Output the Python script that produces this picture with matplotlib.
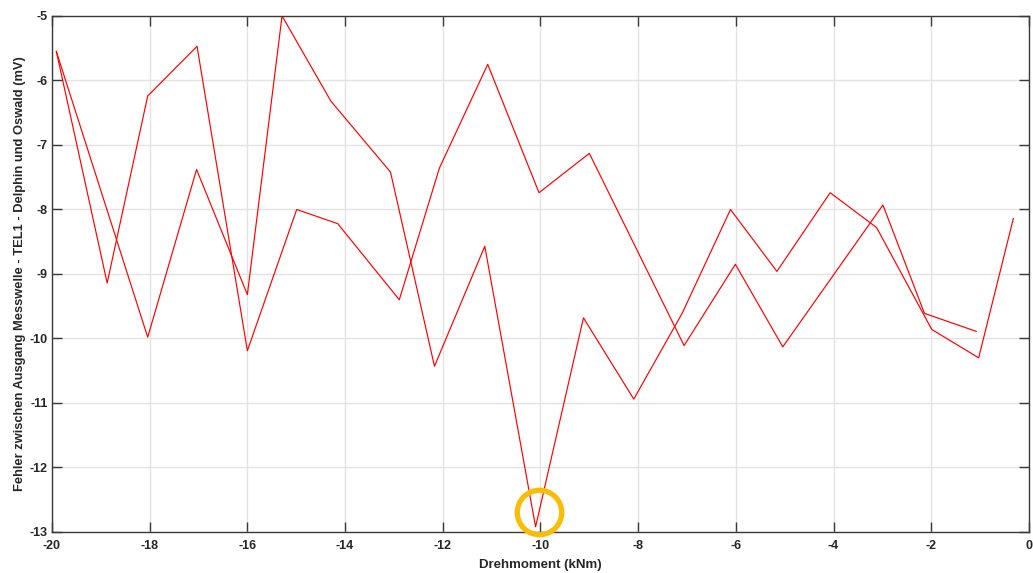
import matplotlib
matplotlib.use("Agg")
import matplotlib.pyplot as plt

plt.rcParams['font.family'] = ['Liberation Sans', 'DejaVu Sans']
plt.rcParams['axes.unicode_minus'] = False

# Messreihe 1 (Drehmoment in kNm, Fehler in mV)
torque_a = [-19.91, -18.87, -18.04, -17.03, -16.00, -14.99, -14.15, -12.89, -12.07,
            -11.08, -10.03, -9.00, -7.06, -6.01, -5.04, -2.99, -2.14, -1.08]
error_a = [-5.55, -9.14, -6.24, -5.47, -10.19, -8.00, -8.22, -9.40, -7.36,
           -5.75, -7.74, -7.13, -10.11, -8.85, -10.13, -7.93, -9.61, -9.89]

# Messreihe 2
torque_b = [-19.91, -18.04, -17.04, -16.00, -15.29, -14.29, -13.07, -12.17, -11.14, -10.10,
            -9.12, -8.09, -7.10, -6.11, -5.16, -4.07, -3.12, -1.99, -1.03, -0.32]
error_b = [-5.55, -9.98, -7.38, -9.32, -5.00, -6.32, -7.42, -10.43, -8.57, -12.92,
           -9.68, -10.94, -9.61, -8.00, -8.96, -7.74, -8.28, -9.86, -10.30, -8.14]

# Markierung des Minimums
mark_x = [-10.02]
mark_y = [-12.69]

x_ticks = list(range(-20, 1, 2))
y_ticks = list(range(-13, -4, 1))

fig = plt.figure(figsize=(10.33, 5.73), dpi=100)
ax = fig.add_axes([0.0503, 0.0716, 0.9458, 0.9005])

ax.plot(torque_a, error_a, color='#ff0000', lw=0.85)
ax.plot(torque_b, error_b, color='#ff0000', lw=0.85)

ax.plot(mark_x, mark_y, marker='o', ms=32, mfc='none', mec='#fbbc05',
        mew=3.8, ls='none', clip_on=False, zorder=5)

ax.set_xlim(-20, 0)
ax.set_ylim(-13, -5)
ax.set_xticks(x_ticks)
ax.set_yticks(y_ticks)
ax.grid(True, color='#e3e3e3', lw=1.0)
ax.set_axisbelow(True)

for s in ax.spines.values():
    s.set_color('#3a3a3a')
    s.set_linewidth(1.0)

ax.tick_params(axis='both', direction='in', length=7, width=1.0, color='#3a3a3a',
               top=True, right=True, labelsize=9)
ax.tick_params(axis='x', pad=6)
ax.tick_params(axis='y', pad=3)
for lab in ax.get_xticklabels() + ax.get_yticklabels():
    lab.set_fontweight('bold')
    lab.set_color('#262626')

ax.set_xlabel('Drehmoment (kNm)', fontsize=9.5, fontweight='bold', color='#262626', labelpad=5)
ax.set_ylabel('Fehler zwischen Ausgang Messwelle - TEL1 - Delphin und Oswald (mV)',
              fontsize=9.3, fontweight='bold', color='#262626', labelpad=3)

fig.savefig('out.png', dpi=100)
